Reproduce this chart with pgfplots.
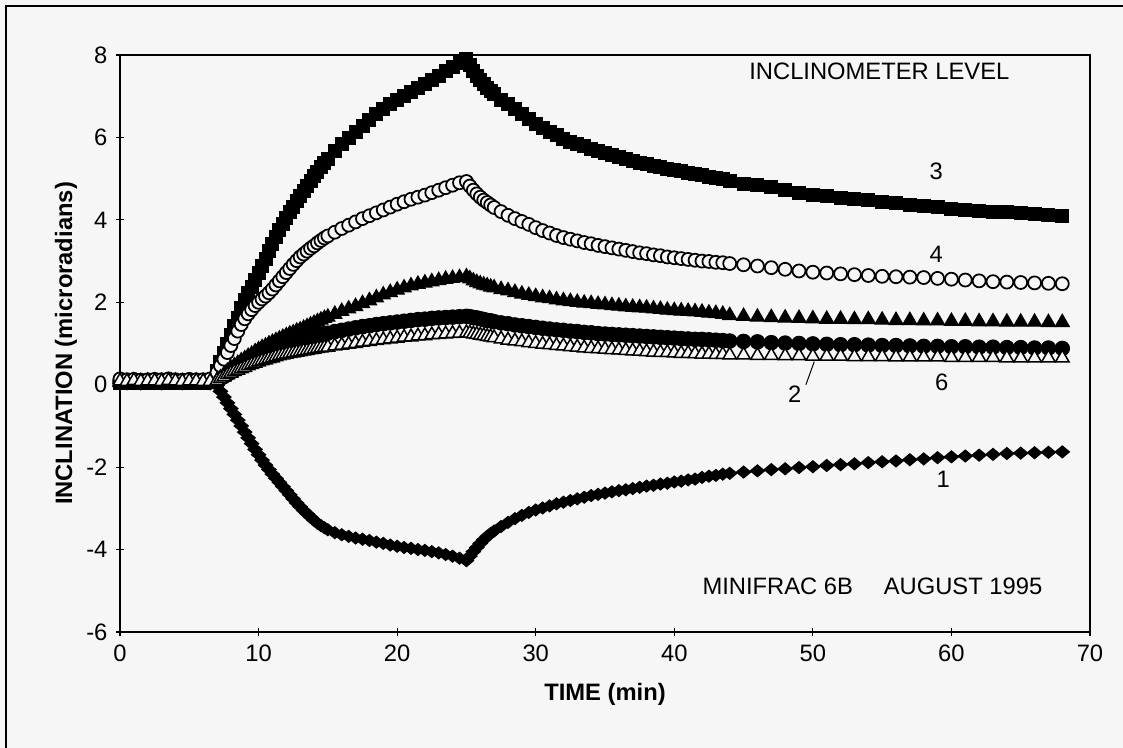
\documentclass[border=0pt]{standalone}
\usepackage{fontspec}
\setmainfont{Liberation Sans}
\usepackage{pgfplots}
\usepackage{pgfplotstable}
\pgfplotsset{compat=1.18}
\definecolor{bg}{HTML}{F6F6F6}
\newcommand\chartfont{\fontsize{9.5}{11}\selectfont}

% time (min), inclination (microradians) per inclinometer level
\pgfplotstableread{
t L1 L2 L3 L4 L5 L6
0 0.03 0.08 0.05 0.14 0.06 0.09
0.5 0.02 0.07 0.04 0.12 0.05 0.08
1 0.04 0.09 0.06 0.13 0.07 0.10
1.5 0.02 0.07 0.05 0.11 0.05 0.08
2 0.03 0.08 0.04 0.12 0.06 0.09
2.5 0.03 0.08 0.05 0.13 0.06 0.09
3 0.02 0.07 0.05 0.12 0.05 0.08
3.5 0.04 0.09 0.06 0.14 0.07 0.10
4 0.03 0.08 0.05 0.12 0.06 0.09
4.5 0.02 0.07 0.04 0.11 0.05 0.08
5 0.03 0.08 0.05 0.13 0.06 0.09
5.5 0.04 0.08 0.06 0.12 0.06 0.09
6 0.03 0.07 0.05 0.12 0.05 0.08
6.5 0.02 0.07 0.06 0.14 0.05 0.08
7 -0.02 0.10 0.34 0.30 0.10 0.10
7.25 -0.16 0.15 0.55 0.46 0.17 0.15
7.5 -0.30 0.20 0.77 0.62 0.25 0.19
7.75 -0.44 0.25 0.98 0.78 0.33 0.24
8 -0.58 0.30 1.20 0.95 0.40 0.28
8.25 -0.72 0.35 1.42 1.12 0.46 0.32
8.5 -0.86 0.40 1.63 1.30 0.52 0.35
8.75 -1.00 0.45 1.85 1.46 0.58 0.39
9 -1.15 0.50 2.05 1.60 0.63 0.42
9.25 -1.29 0.55 2.22 1.72 0.69 0.46
9.5 -1.43 0.59 2.38 1.82 0.74 0.49
9.75 -1.57 0.64 2.55 1.92 0.80 0.52
10 -1.70 0.68 2.72 2.00 0.85 0.55
10.25 -1.83 0.72 2.89 2.08 0.90 0.58
10.5 -1.95 0.76 3.06 2.15 0.94 0.60
10.75 -2.06 0.80 3.24 2.23 0.99 0.63
11 -2.17 0.83 3.42 2.32 1.03 0.65
11.25 -2.27 0.87 3.59 2.42 1.07 0.68
11.5 -2.37 0.90 3.76 2.52 1.11 0.70
11.75 -2.47 0.94 3.91 2.62 1.15 0.72
12 -2.57 0.97 4.05 2.72 1.19 0.74
12.25 -2.67 1.00 4.19 2.82 1.23 0.76
12.5 -2.77 1.03 4.32 2.92 1.26 0.77
12.75 -2.87 1.06 4.45 3.01 1.30 0.79
13 -2.96 1.08 4.58 3.10 1.33 0.80
13.25 -3.05 1.11 4.71 3.17 1.37 0.82
13.5 -3.13 1.13 4.83 3.24 1.41 0.83
13.75 -3.21 1.16 4.95 3.31 1.45 0.85
14 -3.29 1.18 5.06 3.37 1.49 0.86
14.25 -3.36 1.20 5.17 3.44 1.53 0.88
14.5 -3.42 1.22 5.28 3.50 1.57 0.89
14.75 -3.47 1.24 5.38 3.56 1.61 0.90
15 -3.52 1.25 5.48 3.61 1.64 0.91
15.5 -3.59 1.29 5.66 3.70 1.71 0.94
16 -3.64 1.32 5.83 3.79 1.78 0.96
16.5 -3.68 1.35 5.98 3.87 1.84 0.98
17 -3.72 1.38 6.13 3.95 1.90 1.00
17.5 -3.75 1.41 6.28 4.03 1.97 1.03
18 -3.78 1.43 6.42 4.10 2.04 1.05
18.5 -3.82 1.46 6.56 4.17 2.11 1.07
19 -3.85 1.48 6.68 4.24 2.18 1.09
19.5 -3.89 1.50 6.80 4.31 2.24 1.11
20 -3.92 1.52 6.91 4.38 2.30 1.13
20.5 -3.95 1.54 7.01 4.44 2.35 1.15
21 -3.97 1.56 7.11 4.50 2.40 1.16
21.5 -4.00 1.58 7.20 4.55 2.44 1.18
22 -4.02 1.59 7.30 4.60 2.47 1.19
22.5 -4.05 1.61 7.40 4.66 2.50 1.21
23 -4.08 1.62 7.50 4.72 2.53 1.22
23.5 -4.12 1.63 7.60 4.78 2.56 1.23
24 -4.16 1.64 7.70 4.84 2.58 1.24
24.5 -4.21 1.65 7.80 4.90 2.60 1.25
25 -4.27 1.66 7.90 4.93 2.62 1.26
25.25 -4.16 1.65 7.75 4.82 2.57 1.25
25.5 -4.05 1.63 7.60 4.72 2.52 1.23
25.75 -3.95 1.62 7.50 4.63 2.48 1.22
26 -3.85 1.60 7.40 4.55 2.45 1.20
26.25 -3.76 1.58 7.30 4.48 2.42 1.19
26.5 -3.68 1.56 7.20 4.42 2.40 1.17
26.75 -3.61 1.55 7.12 4.36 2.37 1.16
27 -3.55 1.53 7.05 4.30 2.35 1.14
27.5 -3.44 1.50 6.92 4.20 2.31 1.11
28 -3.34 1.48 6.80 4.11 2.28 1.08
28.5 -3.25 1.45 6.68 4.03 2.24 1.06
29 -3.17 1.43 6.56 3.96 2.20 1.04
29.5 -3.10 1.41 6.44 3.89 2.17 1.02
30 -3.04 1.39 6.33 3.81 2.14 1.00
30.5 -2.99 1.37 6.23 3.74 2.11 0.98
31 -2.94 1.35 6.14 3.68 2.09 0.97
31.5 -2.89 1.33 6.05 3.62 2.06 0.95
32 -2.85 1.32 5.97 3.57 2.04 0.94
32.5 -2.81 1.30 5.90 3.53 2.02 0.92
33 -2.77 1.29 5.84 3.49 2.00 0.91
33.5 -2.73 1.27 5.78 3.45 1.98 0.89
34 -2.69 1.26 5.72 3.42 1.97 0.88
34.5 -2.66 1.24 5.67 3.38 1.95 0.87
35 -2.63 1.23 5.62 3.35 1.94 0.86
35.5 -2.60 1.22 5.57 3.32 1.92 0.85
36 -2.57 1.21 5.52 3.29 1.91 0.84
36.5 -2.55 1.20 5.48 3.26 1.89 0.83
37 -2.52 1.19 5.44 3.23 1.88 0.82
37.5 -2.49 1.18 5.39 3.20 1.87 0.81
38 -2.46 1.17 5.35 3.18 1.86 0.80
38.5 -2.44 1.16 5.31 3.15 1.84 0.79
39 -2.41 1.15 5.28 3.13 1.83 0.78
39.5 -2.39 1.14 5.24 3.10 1.81 0.78
40 -2.36 1.13 5.21 3.08 1.80 0.77
40.5 -2.34 1.12 5.18 3.06 1.79 0.76
41 -2.31 1.11 5.14 3.04 1.78 0.76
41.5 -2.29 1.10 5.11 3.02 1.77 0.75
42 -2.25 1.10 5.08 3.00 1.76 0.74
42.5 -2.22 1.09 5.05 2.99 1.74 0.74
43 -2.20 1.08 5.02 2.97 1.73 0.73
43.5 -2.17 1.07 4.99 2.96 1.71 0.73
44 -2.15 1.06 4.95 2.94 1.68 0.72
45 -2.12 1.05 4.88 2.91 1.66 0.72
46 -2.09 1.04 4.85 2.88 1.64 0.71
47 -2.06 1.02 4.80 2.84 1.63 0.71
48 -2.04 1.01 4.72 2.80 1.62 0.70
49 -2.01 1.00 4.66 2.76 1.61 0.70
50 -1.99 0.99 4.61 2.73 1.60 0.69
51 -1.96 0.98 4.57 2.71 1.59 0.69
52 -1.94 0.97 4.54 2.69 1.59 0.69
53 -1.92 0.97 4.50 2.67 1.58 0.68
54 -1.89 0.96 4.47 2.65 1.58 0.68
55 -1.87 0.95 4.44 2.63 1.57 0.68
56 -1.85 0.95 4.41 2.62 1.56 0.67
57 -1.82 0.94 4.37 2.61 1.56 0.67
58 -1.80 0.93 4.33 2.60 1.55 0.67
59 -1.77 0.93 4.30 2.58 1.55 0.67
60 -1.75 0.92 4.27 2.56 1.54 0.66
61 -1.73 0.92 4.24 2.54 1.54 0.66
62 -1.71 0.91 4.22 2.52 1.53 0.66
63 -1.69 0.91 4.20 2.50 1.53 0.66
64 -1.67 0.90 4.18 2.49 1.52 0.65
65 -1.66 0.90 4.16 2.48 1.52 0.65
66 -1.65 0.89 4.14 2.47 1.52 0.65
67 -1.64 0.89 4.12 2.46 1.51 0.65
68 -1.63 0.88 4.10 2.45 1.51 0.65
}\incl

\begin{document}
\begin{tikzpicture}
\useasboundingbox (0,0) rectangle (449.2pt,299.2pt);
\fill[bg] (0,0) rectangle (449.2pt,299.2pt);
\draw[line width=0.5pt] (2.4pt,-5pt) |- (470pt,296.8pt);
\begin{axis}[
  at={(48pt,46.4pt)}, anchor=south west, scale only axis,
  width=388pt, height=230.8pt,
  xmin=0, xmax=70, ymin=-6, ymax=8,
  xtick={0,10,...,70}, ytick={-6,-4,...,8},
  axis line style={line width=0.8pt},
  tick style={black, line width=0.5pt},
  tick align=center, major tick length=3pt,
  tick pos=left,
  ticklabel style={font=\chartfont},
  /pgf/number format/assume math mode=true,
  xlabel={TIME (min)}, ylabel={INCLINATION (microradians)},
  label style={font=\chartfont\bfseries},
  xlabel style={at={(axis description cs:0.5,-0.1075)}, anchor=center},
  ylabel style={at={(axis description cs:-0.0557,0.5)}, anchor=center},
  clip=false,
]
\addplot[only marks, mark=diamond*, mark size=2.4pt, mark options={xscale=1.6, fill=black, draw=black}] table[x=t, y=L1] {\incl};
\addplot[only marks, mark=*, mark size=2.9pt, mark options={fill=black, draw=black}] table[x=t, y=L2] {\incl};
\addplot[only marks, mark=square*, mark size=2.6pt, mark options={fill=black, draw=black}] table[x=t, y=L3] {\incl};
\addplot[only marks, mark=*, mark size=2.6pt, mark options={fill=bg, draw=black, line width=0.7pt}] table[x=t, y=L4] {\incl};
\addplot[only marks, mark=triangle*, mark size=3.3pt, mark options={fill=black, draw=black}] table[x=t, y=L5] {\incl};
\addplot[only marks, mark=triangle*, mark size=3.1pt, mark options={fill=bg, draw=black, line width=0.6pt}] table[x=t, y=L6] {\incl};

\node[font=\chartfont] at (axis cs:54.8,7.6) {INCLINOMETER LEVEL};
\node[font=\chartfont] at (axis cs:58.9,5.17) {3};
\node[font=\chartfont] at (axis cs:58.9,3.16) {4};
\node[font=\chartfont] at (axis cs:48.7,-0.24) {2};
\draw[line width=0.4pt] (axis cs:49.5,0.0) -- (axis cs:50.1,0.56);
\node[font=\chartfont] at (axis cs:59.3,0.05) {6};
\node[font=\chartfont] at (axis cs:59.4,-2.3) {1};
\node[font=\chartfont] at (axis cs:54.3,-4.9) {MINIFRAC 6B\hspace{1.3em}AUGUST 1995};
\end{axis}
\end{tikzpicture}
\end{document}
